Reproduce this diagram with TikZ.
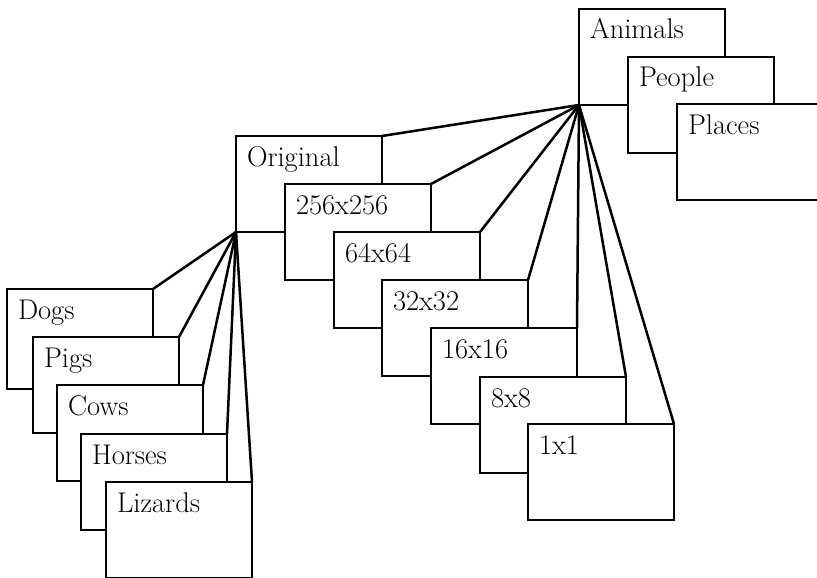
\documentclass[tikz,border=0pt]{standalone}
\begin{document}
\begin{tikzpicture}[x=1pt,y=-1pt,
  card/.style={draw, line width=2.5pt, fill=white, anchor=north west,
    outer sep=0pt, inner xsep=11pt, inner ysep=0pt, text width=124pt,
    align=left, text height=30pt, text depth=66pt,
    font=\fontsize{28.5}{32}\selectfont},
  tall/.style={text depth=70pt},
  link/.style={line width=2.5pt, line cap=round}]
\clip (0,0) rectangle (817,578);
% top cluster
\node[card] (animals) at (579,9) {Animals};
\node[card] (people) at (628,57) {People};
\node[card] (places) at (677,104) {Places};
% middle cluster
\node[card] (original) at (236,136) {Original};
\node[card] (r256) at (285,184) {256x256};
\node[card] (r64) at (334,232) {64x64};
\node[card] (r32) at (382,280) {32x32};
\node[card] (r16) at (431,328) {16x16};
\node[card] (r8) at (480,377) {8x8};
\node[card] (r1) at (528,424) {1x1};
% left cluster
\node[card,tall] (dogs) at (7,289) {Dogs};
\node[card] (pigs) at (33,337) {Pigs};
\node[card] (cows) at (57,385) {Cows};
\node[card] (horses) at (81,434) {Horses};
\node[card] (lizards) at (106,482) {Lizards};
% connectors
\foreach \n in {original,r256,r64,r32,r16,r8,r1}
  \draw[link] (animals.south west) -- (\n.north east);
\foreach \n in {dogs,pigs,cows,horses,lizards}
  \draw[link] (original.south west) -- (\n.north east);
\end{tikzpicture}
\end{document}
